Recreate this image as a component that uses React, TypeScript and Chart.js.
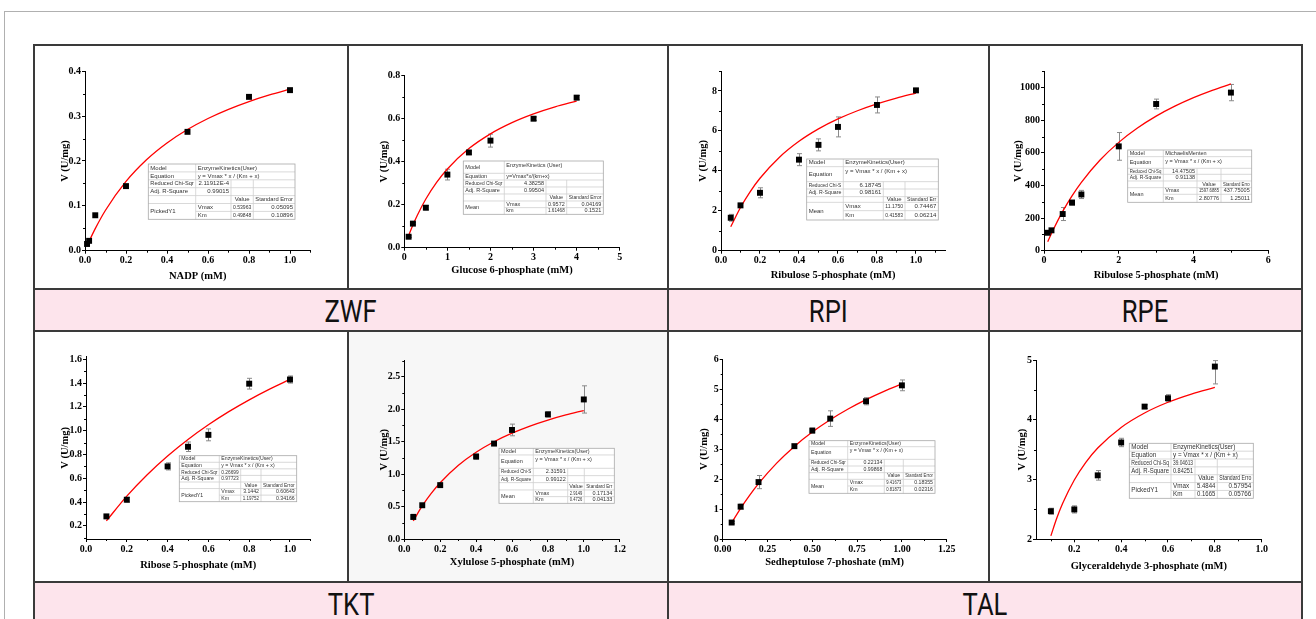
import React, { useEffect, useRef } from "react";
import { Chart, registerables } from "chart.js";

Chart.register(...registerables);

/* ====================== DATA ====================== */
// ZWF – NADP
const nadpConc = [0.01, 0.02, 0.05, 0.2, 0.5, 0.8, 1.0];
const nadpRate = [0.015, 0.022, 0.079, 0.144, 0.265, 0.343, 0.358];
const nadpErr = [0, 0, 0, 0, 0, 0, 0];
const nadpFitConc = [0.01, 0.02, 0.05, 0.1, 0.2, 0.3, 0.4, 0.5, 0.6, 0.7, 0.8, 0.9, 1.0];
const nadpFitRate = [0.0106, 0.0208, 0.0492, 0.0902, 0.1545, 0.2028, 0.2402, 0.2702, 0.2948, 0.3152, 0.3325, 0.3473, 0.3601];
const nadpXTicks = ["0.0", "0.2", "0.4", "0.6", "0.8", "1.0"];
const nadpYTicks = ["0.0", "0.1", "0.2", "0.3", "0.4"];
const nadpTable = [
  ["Model", "EnzymeKinetics(User)", "", ""],
  ["Equation", "y = Vmax * x / (Km + x)", "", ""],
  ["Reduced Chi-Sqr", "2.11912E-4", "", ""],
  ["Adj. R-Square", "0.99015", "", ""],
  ["", "", "Value", "Standard Error"],
  ["PickedY1", "Vmax", "0.53963", "0.05095"],
  ["", "Km", "0.49848", "0.10896"],
];

// ZWF – Glucose 6-phosphate
const g6pConc = [0.1, 0.2, 0.5, 1.0, 1.5, 2.0, 3.0, 4.0];
const g6pRate = [0.051, 0.112, 0.186, 0.34, 0.443, 0.498, 0.6, 0.698];
const g6pErr = [0.004, 0.005, 0.01, 0.025, 0.008, 0.03, 0.008, 0.01];
const g6pFitConc = [0.1, 0.2, 0.3, 0.5, 0.75, 1.0, 1.5, 2.0, 2.5, 3.0, 3.5, 4.0];
const g6pFitRate = [0.0558, 0.1055, 0.15, 0.2263, 0.3036, 0.3661, 0.461, 0.5296, 0.5816, 0.6223, 0.655, 0.6819];
const g6pXTicks = ["0", "1", "2", "3", "4", "5"];
const g6pYTicks = ["0.0", "0.2", "0.4", "0.6", "0.8"];
const g6pTable = [
  ["Model", "EnzymeKinetics (User)", "", ""],
  ["Equation", "y=Vmax*x/(km+x)", "", ""],
  ["Reduced Chi-Sqr", "4.38258", "", ""],
  ["Adj. R-Square", "0.99504", "", ""],
  ["", "", "Value", "Standard Error"],
  ["Mean", "Vmax", "0.9572", "0.04169"],
  ["", "km", "1.61468", "0.1521"],
];

// RPI – Ribulose 5-phosphate
const rpiConc = [0.05, 0.1, 0.2, 0.4, 0.5, 0.6, 0.8, 1.0];
const rpiRate = [1.65, 2.27, 2.9, 4.56, 5.3, 6.2, 7.3, 8.03];
const rpiErr = [0.17, 0.1, 0.25, 0.3, 0.3, 0.5, 0.4, 0.1];
const rpiFitConc = [0.05, 0.1, 0.15, 0.2, 0.3, 0.4, 0.5, 0.6, 0.7, 0.8, 0.9, 1.0];
const rpiFitRate = [1.199, 2.166, 2.962, 3.629, 4.683, 5.479, 6.101, 6.601, 7.01, 7.353, 7.643, 7.893];
const rpiXTicks = ["0.0", "0.2", "0.4", "0.6", "0.8", "1.0"];
const rpiYTicks = ["0", "2", "4", "6", "8"];
const rpiTable = [
  ["Model", "EnzymeKinetics(User)", "", ""],
  ["Equation", "y = Vmax * x / (Km + x)", "", ""],
  ["Reduced Chi-S", "6.18745", "", ""],
  ["Adj. R-Square", "0.98161", "", ""],
  ["", "", "Value", "Standard Err"],
  ["Mean", "Vmax", "11.1750", "0.74467"],
  ["", "Km", "0.41583", "0.06214"],
];

// RPE – Ribulose 5-phosphate
const rpeConc = [0.1, 0.2, 0.5, 0.75, 1.0, 2.0, 3.0, 5.0];
const rpeRate = [110, 125, 225, 295, 345, 640, 900, 970];
const rpeErr = [5, 10, 40, 15, 25, 85, 30, 50];
const rpeFitConc = [0.1, 0.25, 0.5, 0.75, 1.0, 1.5, 2.0, 2.5, 3.0, 3.5, 4.0, 4.5, 5.0];
const rpeFitRate = [54.9, 130.6, 241.5, 336.8, 419.6, 556.3, 664.6, 752.5, 825.3, 886.5, 938.8, 983.8, 1023.1];
const rpeXTicks = ["0", "2", "4", "6"];
const rpeYTicks = ["0", "200", "400", "600", "800", "1000"];
const rpeTable = [
  ["Model", "MichaelisMenten", "", ""],
  ["Equation", "y = Vmax * x / (Km + x)", "", ""],
  ["Reduced Chi-Sq", "14.47505", "", ""],
  ["Adj. R-Square", "0.91138", "", ""],
  ["", "", "Value", "Standard Erro"],
  ["Mean", "Vmax", "1597.6885", "437.75005"],
  ["", "Km", "2.80776", "1.25011"],
];

// TKT – Ribose 5-phosphate
const r5pConc = [0.1, 0.2, 0.4, 0.5, 0.6, 0.8, 1.0];
const r5pRate = [0.28, 0.42, 0.7, 0.865, 0.965, 1.395, 1.43];
const r5pErr = [0.01, 0.02, 0.03, 0.04, 0.05, 0.045, 0.03];
const r5pFitConc = [0.1, 0.2, 0.3, 0.4, 0.5, 0.6, 0.7, 0.8, 0.9, 1.0];
const r5pFitRate = [0.2423, 0.45, 0.6299, 0.7873, 0.9261, 1.0495, 1.1599, 1.2592, 1.3491, 1.4308];
const r5pXTicks = ["0.0", "0.2", "0.4", "0.6", "0.8", "1.0"];
const r5pYTicks = ["0.2", "0.4", "0.6", "0.8", "1.0", "1.2", "1.4", "1.6"];
const r5pTable = [
  ["Model", "EnzymeKinetics(User)", "", ""],
  ["Equation", "y = Vmax * x / (Km + x)", "", ""],
  ["Reduced Chi-Sqr", "0.26699", "", ""],
  ["Adj. R-Square", "0.97723", "", ""],
  ["", "", "Value", "Standard Error"],
  ["PickedY1", "Vmax", "3.1442", "0.60643"],
  ["", "Km", "1.19752", "0.34166"],
];

// TKT – Xylulose 5-phosphate
const x5pConc = [0.05, 0.1, 0.2, 0.4, 0.5, 0.6, 0.8, 1.0];
const x5pRate = [0.34, 0.52, 0.83, 1.27, 1.47, 1.68, 1.92, 2.15];
const x5pErr = [0.04, 0.02, 0.02, 0.04, 0.03, 0.09, 0.04, 0.21];
const x5pFitConc = [0.05, 0.1, 0.15, 0.2, 0.3, 0.4, 0.5, 0.6, 0.7, 0.8, 0.9, 1.0];
const x5pFitRate = [0.2789, 0.5091, 0.7023, 0.8668, 1.1319, 1.3362, 1.4985, 1.6306, 1.7401, 1.8324, 1.9113, 1.9794];
const x5pXTicks = ["0.0", "0.2", "0.4", "0.6", "0.8", "1.0", "1.2"];
const x5pYTicks = ["0.0", "0.5", "1.0", "1.5", "2.0", "2.5"];
const x5pTable = [
  ["Model", "EnzymeKinetics(User)", "", ""],
  ["Equation", "y = Vmax * x / (Km + x)", "", ""],
  ["Reduced Chi-S", "2.31591", "", ""],
  ["Adj. R-Square", "0.99122", "", ""],
  ["", "", "Value", "Standard Err"],
  ["Mean", "Vmax", "2.9149", "0.17134"],
  ["", "Km", "0.4726", "0.04133"],
];

// TAL – Sedheptulose 7-phosphate
const s7pConc = [0.05, 0.1, 0.2, 0.4, 0.5, 0.6, 0.8, 1.0];
const s7pRate = [0.55, 1.08, 1.9, 3.1, 3.62, 4.02, 4.6, 5.13];
const s7pErr = [0.04, 0.08, 0.22, 0.03, 0.08, 0.26, 0.12, 0.18];
const s7pFitConc = [0.05, 0.1, 0.15, 0.2, 0.3, 0.4, 0.5, 0.6, 0.7, 0.8, 0.9, 1.0];
const s7pFitRate = [0.542, 1.025, 1.458, 1.849, 2.525, 3.091, 3.57, 3.982, 4.34, 4.654, 4.931, 5.178];
const s7pXTicks = ["0.00", "0.25", "0.50", "0.75", "1.00", "1.25"];
const s7pYTicks = ["0", "1", "2", "3", "4", "5", "6"];
const s7pTable = [
  ["Model", "EnzymeKinetics(User)", "", ""],
  ["Equation", "y = Vmax * x / (Km + x)", "", ""],
  ["Reduced Chi-Sqr", "0.22134", "", ""],
  ["Adj. R-Square", "0.99868", "", ""],
  ["", "", "Value", "Standard Error"],
  ["Mean", "Vmax", "9.41673", "0.18355"],
  ["", "Km", "0.81873", "0.02316"],
];

// TAL – Glyceraldehyde 3-phosphate
const gapConc = [0.1, 0.2, 0.3, 0.4, 0.5, 0.6, 0.8];
const gapRate = [2.47, 2.5, 3.07, 3.62, 4.22, 4.36, 4.89];
const gapErrLow = [0.05, 0.06, 0.08, 0.07, 0.03, 0.06, 0.29];
const gapErrHigh = [0.05, 0.06, 0.08, 0.07, 0.03, 0.06, 0.1];
const gapFitConc = [0.1, 0.125, 0.15, 0.2, 0.25, 0.3, 0.4, 0.5, 0.6, 0.7, 0.8];
const gapFitRate = [2.058, 2.352, 2.599, 2.993, 3.292, 3.527, 3.872, 4.114, 4.293, 4.431, 4.54];
const gapXTicks = ["0.2", "0.4", "0.6", "0.8", "1.0"];
const gapYTicks = ["2", "3", "4", "5"];
const gapTable = [
  ["Model", "EnzymeKinetics(User)", "", ""],
  ["Equation", "y = Vmax * x / (Km + x)", "", ""],
  ["Reduced Chi-Sq", "39.04613", "", ""],
  ["Adj. R-Square", "0.84251", "", ""],
  ["", "", "Value", "Standard Erro"],
  ["PickedY1", "Vmax", "5.4844", "0.57954"],
  ["", "Km", "0.1665", "0.05766"],
];

const yTitle = "V (U/mg)";

/* ====================== LAYOUT ====================== */
type Box = { x: number; y: number; w: number; h: number };
type Area = { left: number; right: number; top: number; bottom: number };
type TableLayout = { rect: number[]; cols: number[]; rows: number[]; font: number };
type Panel = {
  cell: Box; area: Area; xRange: number[]; yRange: number[];
  xTicks: string[]; yTicks: string[]; xTitle: string; xTitleY: number; yTitleX: number;
  conc: number[]; rate: number[]; errLo: number[]; errHi: number[];
  fitConc: number[]; fitRate: number[]; table: string[][]; tl: TableLayout;
};

const EQ = [1, 1, 1, 1, 1, 1, 1];

const PANELS: Panel[] = [
  {
    cell: { x: 35, y: 46, w: 312, h: 242 }, area: { left: 85, right: 310.5, top: 71.3, bottom: 250.7 },
    xRange: [0, 1.1], yRange: [0, 0.4], xTicks: nadpXTicks, yTicks: nadpYTicks,
    xTitle: "NADP (mM)", xTitleY: 276.7, yTitleX: 65,
    conc: nadpConc, rate: nadpRate, errLo: nadpErr, errHi: nadpErr, fitConc: nadpFitConc, fitRate: nadpFitRate,
    table: nadpTable, tl: { rect: [148.3, 164, 295, 219.3], cols: [148.3, 195.7, 231, 253.3, 295], rows: EQ, font: 6 },
  },
  {
    cell: { x: 349, y: 46, w: 318, h: 242 }, area: { left: 404.3, right: 619.7, top: 75.7, bottom: 247.7 },
    xRange: [0, 5], yRange: [0, 0.8], xTicks: g6pXTicks, yTicks: g6pYTicks,
    xTitle: "Glucose 6-phosphate (mM)", xTitleY: 270.7, yTitleX: 384.3,
    conc: g6pConc, rate: g6pRate, errLo: g6pErr, errHi: g6pErr, fitConc: g6pFitConc, fitRate: g6pFitRate,
    table: g6pTable, tl: { rect: [463.3, 161, 603.3, 214.3], cols: [463.3, 504.3, 546, 566.7, 603.3], rows: [37, 20, 21, 21, 21, 20, 20], font: 5.5 },
  },
  {
    cell: { x: 669, y: 46, w: 319, h: 242 }, area: { left: 721, right: 945.2, top: 71, bottom: 250.7 },
    xRange: [0, 1.15], yRange: [0, 9], xTicks: rpiXTicks, yTicks: rpiYTicks,
    xTitle: "Ribulose 5-phosphate (mM)", xTitleY: 275, yTitleX: 703.3,
    conc: rpiConc, rate: rpiRate, errLo: rpiErr, errHi: rpiErr, fitConc: rpiFitConc, fitRate: rpiFitRate,
    table: rpiTable, tl: { rect: [806.7, 159, 938.3, 220], cols: [806.7, 843.3, 883.3, 905, 938.3], rows: [23, 45, 22, 23, 17, 25, 28], font: 6 },
  },
  {
    cell: { x: 990, y: 46, w: 311, h: 242 }, area: { left: 1044, right: 1268.3, top: 71.4, bottom: 250.7 },
    xRange: [0, 6], yRange: [0, 1100], xTicks: rpeXTicks, yTicks: rpeYTicks,
    xTitle: "Ribulose 5-phosphate (mM)", xTitleY: 275, yTitleX: 1018.3,
    conc: rpeConc, rate: rpeRate, errLo: rpeErr, errHi: rpeErr, fitConc: rpeFitConc, fitRate: rpeFitRate,
    table: rpeTable, tl: { rect: [1127.7, 150, 1251.7, 202.3], cols: [1127.7, 1163.3, 1197, 1221, 1251.7], rows: [20, 35, 18, 20, 20, 20, 24], font: 5.5 },
  },
  {
    cell: { x: 35, y: 332, w: 312, h: 249 }, area: { left: 86, right: 310.4, top: 356.9, bottom: 539 },
    xRange: [0, 1.1], yRange: [0.09, 1.62], xTicks: r5pXTicks, yTicks: r5pYTicks,
    xTitle: "Ribose 5-phosphate (mM)", xTitleY: 565, yTitleX: 65,
    conc: r5pConc, rate: r5pRate, errLo: r5pErr, errHi: r5pErr, fitConc: r5pFitConc, fitRate: r5pFitRate,
    table: r5pTable, tl: { rect: [179.3, 455.7, 296.7, 501.7], cols: [179.3, 219.3, 240.7, 261, 296.7], rows: EQ, font: 5.2 },
  },
  {
    cell: { x: 349, y: 332, w: 318, h: 249 }, area: { left: 404.3, right: 619.7, top: 360.5, bottom: 539 },
    xRange: [0, 1.2], yRange: [0, 2.75], xTicks: x5pXTicks, yTicks: x5pYTicks,
    xTitle: "Xylulose 5-phosphate (mM)", xTitleY: 562.3, yTitleX: 384.3,
    conc: x5pConc, rate: x5pRate, errLo: x5pErr, errHi: x5pErr, fitConc: x5pFitConc, fitRate: x5pFitRate,
    table: x5pTable, tl: { rect: [499, 448.3, 614.3, 503.3], cols: [499, 533.3, 567.7, 584.3, 614.3], rows: [20, 40, 22, 21, 22, 20, 20], font: 5.5 },
  },
  {
    cell: { x: 669, y: 332, w: 319, h: 249 }, area: { left: 722.7, right: 946.7, top: 359.3, bottom: 539 },
    xRange: [0, 1.25], yRange: [0, 6], xTicks: s7pXTicks, yTicks: s7pYTicks,
    xTitle: "Sedheptulose 7-phoshate (mM)", xTitleY: 562.3, yTitleX: 704.3,
    conc: s7pConc, rate: s7pRate, errLo: s7pErr, errHi: s7pErr, fitConc: s7pFitConc, fitRate: s7pFitRate,
    table: s7pTable, tl: { rect: [809, 440.7, 935, 493.3], cols: [809, 847.7, 884.3, 903.3, 935], rows: [18, 38, 20, 20, 20, 20, 22], font: 5.2 },
  },
  {
    cell: { x: 990, y: 332, w: 311, h: 249 }, area: { left: 1036, right: 1261.7, top: 360, bottom: 539.3 },
    xRange: [0.0365, 1.0], yRange: [2, 5], xTicks: gapXTicks, yTicks: gapYTicks,
    xTitle: "Glyceraldehyde 3-phosphate (mM)", xTitleY: 566, yTitleX: 1022.3,
    conc: gapConc, rate: gapRate, errLo: gapErrLow, errHi: gapErrHigh, fitConc: gapFitConc, fitRate: gapFitRate,
    table: gapTable, tl: { rect: [1129.3, 443.3, 1253.3, 498.3], cols: [1129.3, 1171, 1195, 1217.3, 1253.3], rows: EQ, font: 6.3 },
  },
];

const SERIF = "'Liberation Serif', 'Times New Roman', serif";
const SANS = "'Liberation Sans', Arial, sans-serif";
const TITLE_SIZE = 10.5;
const TICK_SIZE = 10;

function minorValues(ticks: number[], min: number, max: number) {
  const step = ticks[1] - ticks[0];
  let v = ticks[0] - step / 2;
  while (v - step >= min - 1e-9) v -= step;
  const out: number[] = [];
  for (; v <= max + 1e-9; v += step) if (v >= min - 1e-9) out.push(v);
  return out;
}

function drawTable(ctx: CanvasRenderingContext2D, text: string[][], tl: TableLayout, ox: number, oy: number) {
  const X = tl.cols.map((c) => c - ox);
  const top = tl.rect[1] - oy;
  const bot = tl.rect[3] - oy;
  const sum = tl.rows.reduce((a, b) => a + b, 0);
  const Y = [top];
  let acc = 0;
  for (const r of tl.rows) { acc += r; Y.push(top + ((bot - top) * acc) / sum); }
  const avg = (bot - top) / 7;
  const line = (x0: number, y0: number, x1: number, y1: number) => {
    ctx.beginPath(); ctx.moveTo(x0, y0); ctx.lineTo(x1, y1); ctx.stroke();
  };
  ctx.save();
  ctx.fillStyle = "#ffffff";
  ctx.fillRect(X[0], top, X[4] - X[0], bot - top);
  ctx.strokeStyle = "#cfcfcf";
  ctx.lineWidth = 0.8;
  for (let r = 1; r < 7; r++) line(r === 6 ? X[1] : X[0], Y[r], X[4], Y[r]);
  line(X[1], top, X[1], bot);
  line(X[2], Y[2], X[2], bot);
  line(X[3], Y[2], X[3], bot);
  ctx.strokeStyle = "#a8a8a8";
  ctx.strokeRect(X[0], top, X[4] - X[0], bot - top);
  ctx.fillStyle = "#333";
  ctx.font = `${tl.font}px ${SANS}`;
  ctx.textBaseline = "middle";
  const pad = 2;
  const put = (s: string, x: number, y: number, align: CanvasTextAlign, mw: number) => {
    if (!s) return;
    ctx.textAlign = align;
    ctx.fillText(s, x, y, Math.max(mw, 4));
  };
  for (let r = 0; r < 7; r++) {
    const row = text[r];
    const yc = (Y[r] + Y[r + 1]) / 2;
    const tall = Y[r + 1] - Y[r] > avg * 1.4;
    if (r <= 3) {
      put(row[0], X[0] + pad, yc, "left", X[1] - X[0] - pad * 2);
      if (r <= 1) {
        put(row[1], X[1] + pad, tall ? Y[r] + tl.font * 0.8 : yc, "left", X[4] - X[1] - pad * 2);
      } else {
        put(row[1], X[2] - pad, yc, "right", X[2] - X[1] - pad * 2);
      }
    } else if (r === 4) {
      put(row[2], (X[2] + X[3]) / 2, yc, "center", X[3] - X[2] - 2);
      put(row[3], X[3] + pad, yc, "left", X[4] - X[3] - pad * 2);
    } else {
      if (r === 5) put(row[0], X[0] + pad, (Y[5] + Y[7]) / 2, "left", X[1] - X[0] - pad * 2);
      put(row[1], X[1] + pad, yc, "left", X[2] - X[1] - pad * 2);
      put(row[2], X[3] - pad, yc, "right", X[3] - X[2] - pad * 2);
      put(row[3], X[4] - pad, yc, "right", X[4] - X[3] - pad * 2);
    }
  }
  ctx.restore();
}

function makeConfig(p: Panel): any {
  const { cell, area } = p;
  const lh = TITLE_SIZE * 1.2;
  const yAxisW = area.left - cell.x;
  const xAxisH = cell.y + cell.h - area.bottom;
  const padTop = area.top - cell.y;
  const padRight = cell.x + cell.w - area.right;
  const xTitlePad = cell.y + cell.h - p.xTitleY - lh / 2;
  const yTitlePad = p.yTitleX - cell.x - lh / 2;
  const xTickVals = p.xTicks.map(parseFloat);
  const yTickVals = p.yTicks.map(parseFloat);
  const tickFont = { family: SERIF, size: TICK_SIZE, weight: "bold" as const };
  const titleFont = { family: SERIF, size: TITLE_SIZE, weight: "bold" as const };

  const decor = {
    id: "decor",
    beforeDatasetsDraw(chart: any) {
      const ctx = chart.ctx;
      const xs = chart.scales.x;
      const ys = chart.scales.y;
      ctx.save();
      ctx.strokeStyle = "#8a8a8a";
      ctx.lineWidth = 1;
      p.conc.forEach((c, i) => {
        const lo = p.errLo[i], hi = p.errHi[i];
        if (!lo && !hi) return;
        const px = Math.round(xs.getPixelForValue(c)) + 0.5;
        const t = ys.getPixelForValue(p.rate[i] + hi);
        const b = ys.getPixelForValue(p.rate[i] - lo);
        ctx.beginPath();
        ctx.moveTo(px, t); ctx.lineTo(px, b);
        ctx.moveTo(px - 2.5, t); ctx.lineTo(px + 2.5, t);
        ctx.moveTo(px - 2.5, b); ctx.lineTo(px + 2.5, b);
        ctx.stroke();
      });
      ctx.restore();
    },
    afterDraw(chart: any) {
      const ctx = chart.ctx;
      const xs = chart.scales.x;
      const ys = chart.scales.y;
      const ca = chart.chartArea;
      ctx.save();
      ctx.strokeStyle = "#000";
      ctx.lineWidth = 1;
      ctx.beginPath();
      for (const v of minorValues(xTickVals, p.xRange[0], p.xRange[1])) {
        const px = Math.round(xs.getPixelForValue(v)) + 0.5;
        ctx.moveTo(px, ca.bottom); ctx.lineTo(px, ca.bottom + 2);
      }
      for (const v of minorValues(yTickVals, p.yRange[0], p.yRange[1])) {
        const py = Math.round(ys.getPixelForValue(v)) + 0.5;
        ctx.moveTo(ca.left - 2, py); ctx.lineTo(ca.left, py);
      }
      ctx.stroke();
      ctx.restore();
      drawTable(ctx, p.table, p.tl, cell.x, cell.y);
    },
  };

  return {
    type: "scatter",
    data: {
      datasets: [
        {
          data: p.conc.map((c, i) => ({ x: c, y: p.rate[i] })),
          pointStyle: "rect",
          pointRadius: 4.2,
          pointBackgroundColor: "#000",
          pointBorderColor: "#000",
          pointBorderWidth: 0,
          showLine: false,
          clip: false,
        },
        {
          data: p.fitConc.map((c, i) => ({ x: c, y: p.fitRate[i] })),
          showLine: true,
          pointRadius: 0,
          borderColor: "#ff0000",
          borderWidth: 1.3,
          cubicInterpolationMode: "monotone",
          fill: false,
          clip: false,
        },
      ],
    },
    options: {
      responsive: false,
      animation: false,
      devicePixelRatio: 1,
      events: [],
      layout: { padding: { left: 0, top: padTop, right: padRight, bottom: 0 } },
      plugins: { legend: { display: false }, tooltip: { enabled: false } },
      scales: {
        x: {
          type: "linear",
          min: p.xRange[0],
          max: p.xRange[1],
          afterBuildTicks: (s: any) => { s.ticks = xTickVals.map((v) => ({ value: v })); },
          afterFit: (s: any) => { s.height = xAxisH; },
          ticks: { callback: (_v: any, i: number) => p.xTicks[i], autoSkip: false, maxRotation: 0, font: tickFont, color: "#000", padding: 1 },
          grid: { drawOnChartArea: false, drawTicks: true, tickLength: 3, color: "#000", lineWidth: 1 },
          border: { display: true, color: "#000", width: 1 },
          title: { display: true, text: p.xTitle, font: titleFont, color: "#000", padding: { top: 0, bottom: xTitlePad } },
        },
        y: {
          type: "linear",
          min: p.yRange[0],
          max: p.yRange[1],
          afterBuildTicks: (s: any) => { s.ticks = yTickVals.map((v) => ({ value: v })); },
          afterFit: (s: any) => { s.width = yAxisW; },
          ticks: { callback: (_v: any, i: number) => p.yTicks[i], autoSkip: false, font: tickFont, color: "#000", padding: 1 },
          grid: { drawOnChartArea: false, drawTicks: true, tickLength: 3, color: "#000", lineWidth: 1 },
          border: { display: true, color: "#000", width: 1 },
          title: { display: true, text: yTitle, font: titleFont, color: "#000", padding: { top: yTitlePad, bottom: 0 } },
        },
      },
    },
    plugins: [decor],
  };
}

function PanelChart({ p }: { p: Panel }) {
  const ref = useRef<HTMLCanvasElement>(null);
  useEffect(() => {
    if (!ref.current) return;
    const chart = new Chart(ref.current, makeConfig(p));
    return () => chart.destroy();
  }, [p]);
  return (
    <canvas
      ref={ref}
      width={p.cell.w}
      height={p.cell.h}
      style={{ position: "absolute", left: p.cell.x, top: p.cell.y, width: p.cell.w, height: p.cell.h }}
    />
  );
}

const BANDS = [
  { label: "ZWF", x0: 35, x1: 667, y: 290 },
  { label: "RPI", x0: 669, x1: 988, y: 290 },
  { label: "RPE", x0: 990, x1: 1301, y: 290 },
  { label: "TKT", x0: 35, x1: 667, y: 583 },
  { label: "TAL", x0: 669, x1: 1301, y: 583 },
];

const H_LINES = [
  { y: 45, x0: 33, x1: 1303 },
  { y: 289, x0: 33, x1: 1303 },
  { y: 331, x0: 33, x1: 1303 },
  { y: 582, x0: 33, x1: 1303 },
];
const V_LINES = [
  { x: 34, y0: 44, y1: 619 },
  { x: 348, y0: 44, y1: 290 },
  { x: 348, y0: 330, y1: 583 },
  { x: 668, y0: 44, y1: 619 },
  { x: 989, y0: 44, y1: 583 },
  { x: 1302, y0: 44, y1: 619 },
];

export default function App() {
  return (
    <div style={{ position: "absolute", left: 0, top: 0, width: 1316, height: 619, overflow: "hidden", background: "#fff" }}>
      <div style={{ position: "absolute", left: 4, top: 11, width: 1400, height: 700, borderLeft: "1px solid #b0b0b0", borderTop: "1px solid #b0b0b0" }} />
      <div style={{ position: "absolute", left: 349, top: 332, width: 318, height: 249, background: "#f7f7f7" }} />
      {BANDS.map((b) => (
        <div
          key={b.label}
          style={{
            position: "absolute", left: b.x0, top: b.y, width: b.x1 - b.x0, height: 40,
            background: "#fde4ec", color: "#111", textAlign: "center",
            fontFamily: "Roboto, 'DejaVu Sans Condensed', sans-serif",
            fontSize: 32, lineHeight: "40px", paddingTop: 1, boxSizing: "border-box",
          }}
        >
          <span style={{ display: "inline-block", transform: "scaleX(0.8)", transformOrigin: "center" }}>{b.label}</span>
        </div>
      ))}
      {PANELS.map((p, i) => (
        <PanelChart key={i} p={p} />
      ))}
      {H_LINES.map((l, i) => (
        <div key={"h" + i} style={{ position: "absolute", left: l.x0, top: l.y - 1, width: l.x1 - l.x0, height: 2, background: "#3a3a3a" }} />
      ))}
      {V_LINES.map((l, i) => (
        <div key={"v" + i} style={{ position: "absolute", left: l.x - 1, top: l.y0, width: 2, height: l.y1 - l.y0, background: "#3a3a3a" }} />
      ))}
    </div>
  );
}
